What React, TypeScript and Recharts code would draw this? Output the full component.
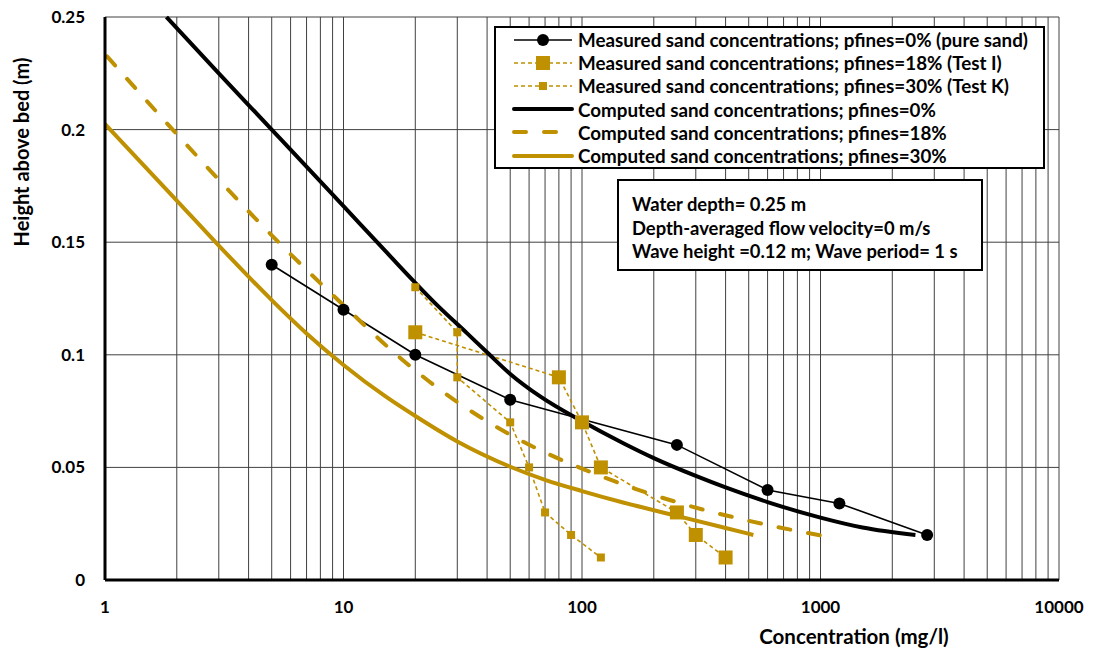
import { LineChart, Line, XAxis, YAxis, CartesianGrid, Legend, Label } from 'recharts';

const FONT = 'Lato, "Open Sans", sans-serif';
const GOLD = '#BF9000';

// measured sand concentrations, pfines = 0% (pure sand)
const sand0Conc = [5, 10, 20, 50, 250, 600, 1200, 2800];
const sand0Height = [0.14, 0.12, 0.1, 0.08, 0.06, 0.04, 0.034, 0.02];

// measured, pfines = 18% (Test I)
const testIConc = [20, 80, 100, 120, 250, 300, 400];
const testIHeight = [0.11, 0.09, 0.07, 0.05, 0.03, 0.02, 0.01];

// measured, pfines = 30% (Test K)
const testKConc = [20, 30, 30, 50, 60, 70, 90, 120];
const testKHeight = [0.13, 0.11, 0.09, 0.07, 0.05, 0.03, 0.02, 0.01];

// computed profiles
const comp0Conc = [1.81, 3, 5, 10, 15, 25, 33, 41, 50, 67, 98, 149, 200, 300, 400, 600, 1000, 1500, 2500];
const comp0Height = [0.25, 0.225, 0.2, 0.166, 0.146, 0.1215, 0.1095, 0.1, 0.0915, 0.0814, 0.071, 0.0607, 0.0541, 0.0462, 0.0411, 0.0346, 0.0277, 0.0233, 0.02];

const comp18Conc = [1.02, 2, 5.4, 10, 16.7, 25.4, 42.5, 72, 100, 164, 270, 490, 1010];
const comp18Height = [0.2325, 0.198, 0.1495, 0.122, 0.1, 0.0845, 0.0688, 0.056, 0.0495, 0.0408, 0.0335, 0.0265, 0.0197];

const comp30Conc = [1, 2, 3, 5, 7, 10, 15, 20, 30, 50, 70, 100, 150, 250, 400, 523];
const comp30Height = [0.2025, 0.1685, 0.1485, 0.1243, 0.1095, 0.0955, 0.0815, 0.0728, 0.0615, 0.0503, 0.0445, 0.0395, 0.0343, 0.0285, 0.0231, 0.02];

const xTicks = [
  1, 2, 3, 4, 5, 6, 7, 8, 9,
  10, 20, 30, 40, 50, 60, 70, 80, 90,
  100, 200, 300, 400, 500, 600, 700, 800, 900,
  1000, 2000, 3000, 4000, 5000, 6000, 7000, 8000, 9000,
  10000,
];
const xLabels = [1, 10, 100, 1000, 10000];
const yTicks = [0, 0.05, 0.1, 0.15, 0.2, 0.25];

const infoLines = [
  'Water depth= 0.25 m',
  'Depth-averaged flow velocity=0 m/s',
  'Wave height =0.12 m; Wave period= 1 s',
];

const toPoints = (xs: number[], ys: number[]) => xs.map((x, i) => ({ x, y: ys[i] }));

const squareDot = (size: number) => (props: any) => {
  const { cx, cy, index } = props;
  if (cx == null || cy == null) return <g key={index} />;
  return <rect key={index} x={cx - size / 2} y={cy - size / 2} width={size} height={size} fill={GOLD} />;
};

type Meta = {
  name: string;
  color: string;
  width: number;
  dash?: string;
  marker?: 'circle' | 'bigSquare' | 'smallSquare';
};

const legendRows: Meta[] = [
  { name: 'Measured sand concentrations; pfines=0% (pure sand)', color: '#000', width: 1.6, marker: 'circle' },
  { name: 'Measured sand concentrations; pfines=18% (Test I)', color: GOLD, width: 1.6, dash: '4 3', marker: 'bigSquare' },
  { name: 'Measured sand concentrations; pfines=30% (Test K)', color: GOLD, width: 1.6, dash: '4 3', marker: 'smallSquare' },
  { name: 'Computed sand concentrations; pfines=0%', color: '#000', width: 4 },
  { name: 'Computed sand concentrations; pfines=18%', color: GOLD, width: 4, dash: '12 18' },
  { name: 'Computed sand concentrations; pfines=30%', color: GOLD, width: 4 },
];

const LegendBox = () => (
  <div style={{ width: 547, border: '2px solid #000', background: '#fff' }}>
    {legendRows.map((r) => (
      <div key={r.name} style={{ height: 23.2, display: 'flex', alignItems: 'center' }}>
        <svg width={82} height={20} style={{ flex: 'none' }}>
          <line
            x1={18}
            x2={76}
            y1={10}
            y2={10}
            stroke={r.color}
            strokeWidth={r.width}
            strokeDasharray={r.dash}
            strokeLinecap={r.width > 3 ? 'round' : 'butt'}
          />
          {r.marker === 'circle' && <circle cx={47} cy={10} r={6} fill="#000" />}
          {r.marker === 'bigSquare' && <rect x={40} y={3} width={14} height={14} fill={GOLD} />}
          {r.marker === 'smallSquare' && <rect x={43} y={6} width={8} height={8} fill={GOLD} />}
        </svg>
        <span style={{ fontFamily: FONT, fontWeight: 700, fontSize: 18.8, lineHeight: '23px', color: '#000', whiteSpace: 'nowrap' }}>
          {r.name}
        </span>
      </div>
    ))}
  </div>
);

export default function App() {
  return (
    <div style={{ position: 'absolute', left: 0, top: 0, width: 1098, height: 651, background: '#fff' }}>
      <LineChart width={1098} height={651} margin={{ top: 17, right: 39, bottom: 0, left: 0 }}>
        <CartesianGrid stroke="#404040" strokeWidth={1} />
        <XAxis
          dataKey="x"
          type="number"
          scale="log"
          domain={[1, 10000]}
          ticks={xTicks}
          interval={0}
          allowDataOverflow
          height={71}
          tickSize={0}
          tickMargin={21}
          tickFormatter={(v: number) => (xLabels.includes(v) ? String(v) : '')}
          tick={{ fill: '#000', fontSize: 17, fontWeight: 700, fontFamily: FONT }}
          axisLine={{ stroke: '#000', strokeWidth: 3 }}
        >
          <Label
            content={() => (
              <text x={854} y={636} textAnchor="middle" dominantBaseline="central" fontFamily={FONT} fontWeight={700} fontSize={20.5} fill="#000">
                Concentration (mg/l)
              </text>
            )}
          />
        </XAxis>
        <YAxis
          dataKey="y"
          type="number"
          domain={[0, 0.25]}
          ticks={yTicks}
          interval={0}
          width={105}
          tickSize={0}
          tickMargin={20}
          tickFormatter={(v: number) => String(v)}
          tick={{ fill: '#000', fontSize: 17, fontWeight: 700, fontFamily: FONT }}
          axisLine={{ stroke: '#000', strokeWidth: 3 }}
        >
          <Label
            content={() => (
              <text x={21} y={152} transform="rotate(-90 21 152)" textAnchor="middle" dominantBaseline="central" fontFamily={FONT} fontWeight={700} fontSize={20} fill="#000">
                Height above bed (m)
              </text>
            )}
          />
        </YAxis>

        <Line
          data={toPoints(sand0Conc, sand0Height)}
          dataKey="y"
          name={legendRows[0].name}
          type="linear"
          stroke="#000"
          strokeWidth={1.6}
          dot={{ r: 6, fill: '#000', stroke: '#000', strokeWidth: 0 }}
          activeDot={false}
          isAnimationActive={false}
        />
        <Line
          data={toPoints(testIConc, testIHeight)}
          dataKey="y"
          name={legendRows[1].name}
          type="linear"
          stroke={GOLD}
          strokeWidth={1.6}
          strokeDasharray="4 3"
          dot={squareDot(14)}
          activeDot={false}
          isAnimationActive={false}
        />
        <Line
          data={toPoints(testKConc, testKHeight)}
          dataKey="y"
          name={legendRows[2].name}
          type="linear"
          stroke={GOLD}
          strokeWidth={1.6}
          strokeDasharray="4 3"
          dot={squareDot(8)}
          activeDot={false}
          isAnimationActive={false}
        />
        <Line
          data={toPoints(comp0Conc, comp0Height)}
          dataKey="y"
          name={legendRows[3].name}
          type="monotone"
          stroke="#000"
          strokeWidth={4}
          dot={false}
          activeDot={false}
          isAnimationActive={false}
        />
        <Line
          data={toPoints(comp18Conc, comp18Height)}
          dataKey="y"
          name={legendRows[4].name}
          type="monotone"
          stroke={GOLD}
          strokeWidth={4}
          strokeDasharray="12 18"
          strokeLinecap="round"
          dot={false}
          activeDot={false}
          isAnimationActive={false}
        />
        <Line
          data={toPoints(comp30Conc, comp30Height)}
          dataKey="y"
          name={legendRows[5].name}
          type="monotone"
          stroke={GOLD}
          strokeWidth={4}
          dot={false}
          activeDot={false}
          isAnimationActive={false}
        />

        <Legend
          layout="horizontal"
          verticalAlign="middle"
          align="center"
          content={() => <LegendBox />}
          wrapperStyle={{ position: 'absolute', left: 494, top: 26, width: 'auto', height: 'auto' }}
        />
      </LineChart>

      <div
        style={{
          position: 'absolute',
          left: 617,
          top: 179,
          width: 349,
          height: 70.5,
          border: '2px solid #000',
          background: '#fff',
          padding: '12px 0 5.5px 13px',
          boxSizing: 'content-box',
        }}
      >
        {infoLines.map((t) => (
          <div key={t} style={{ height: 23.5, lineHeight: '23.5px', fontFamily: FONT, fontWeight: 700, fontSize: 18.4, color: '#000', whiteSpace: 'nowrap' }}>
            {t}
          </div>
        ))}
      </div>
    </div>
  );
}
